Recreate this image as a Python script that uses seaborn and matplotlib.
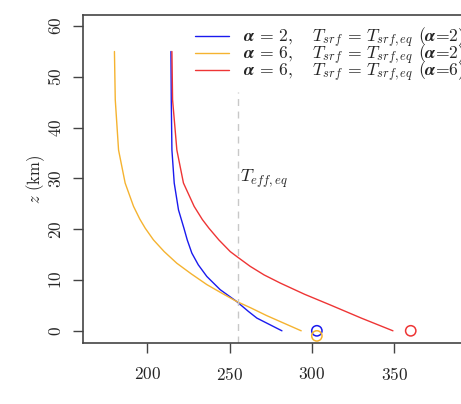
import numpy as np
import pandas as pd
import matplotlib
matplotlib.use("Agg")
import matplotlib.pyplot as plt
import seaborn as sns

# temperature profiles (K) vs altitude (km)
z_a2 = [0, 2.5, 3.8, 5.8, 8.1, 10.7, 13.0, 15.3, 17.9, 20.2, 23.8, 29.1,
        35.6, 45.5, 55]
T_a2 = [281.8, 266.6, 261.5, 254.2, 244.3, 236.2, 231.0, 227.1, 224.3,
        222.3, 219.0, 216.4, 215.0, 214.6, 214.4]

z_a6_eq2 = [0, 1.5, 3.0, 4.5, 5.8, 7.5, 9.1, 11.2, 13.3, 15.6, 17.9, 20.2,
            22.0, 24.5, 29.1, 35.6, 45.5, 55]
T_a6_eq2 = [293.5, 283.0, 272.5, 263.0, 254.2, 244.8, 236.2, 226.8, 218.0,
            210.3, 203.8, 198.8, 195.5, 191.7, 186.6, 182.6, 180.6, 180.1]

z_a6_eq6 = [0, 2.5, 5.1, 7.2, 9.4, 11.0, 12.7, 14.6, 15.6, 17.9, 20.2, 21.9,
            24.5, 29.1, 35.6, 45.5, 55]
T_a6_eq6 = [349.2, 330.0, 311.1, 295.5, 280.8, 271.0, 262.5, 254.5, 250.4,
            243.5, 237.5, 233.5, 228.5, 222.0, 218.0, 215.4, 215.0]

# surface temperatures (circles)
Tsrf_T = [303, 303, 360]
Tsrf_z = [0, -1.0, 0]

T_eff = 255
z_eff_top = 47

labels = [r"$\boldsymbol{\alpha}$ = 2,   $\,T_{srf}$ = $T_{srf,eq}$ ($\boldsymbol{\alpha}$=2)",
          r"$\boldsymbol{\alpha}$ = 6,   $\,T_{srf}$ = $T_{srf,eq}$ ($\boldsymbol{\alpha}$=2)",
          r"$\boldsymbol{\alpha}$ = 6,   $\,T_{srf}$ = $T_{srf,eq}$ ($\boldsymbol{\alpha}$=6)"]
colors = ["#1a1aee", "#f5b330", "#ee3535"]

sns.set_style("ticks")
plt.rcParams["font.family"] = "serif"
plt.rcParams["font.serif"] = ["cmr10", "DejaVu Serif"]
plt.rcParams["mathtext.fontset"] = "cm"
plt.rcParams["axes.formatter.use_mathtext"] = True

fig = plt.figure(figsize=(4.61, 4.04), dpi=100)
ax = fig.add_axes([0.180, 0.151, 1.05, 0.812])

profiles = [(T_a2, z_a2), (T_a6_eq2, z_a6_eq2), (T_a6_eq6, z_a6_eq6)]
for (T, z), lab, c in zip(profiles, labels, colors):
    df = pd.DataFrame({"T": T, "z": z})
    sns.lineplot(data=df, x="T", y="z", sort=False, estimator=None,
                 color=c, lw=1.0, label=lab, ax=ax)

sns.scatterplot(x=Tsrf_T, y=Tsrf_z, marker="o", s=55, facecolor="none",
                edgecolor=colors, linewidth=1.1, ax=ax, legend=False, zorder=5)

ax.set_xlim(161, 161 + 1.05 * 461 / 1.647)
ax.set_ylim(-2.4, 62.2)
ax.vlines(T_eff, -2.4, z_eff_top, colors="#c8c8c8", linestyles=(0, (5, 4)), lw=1.0)
ax.text(T_eff + 1.5, 30, r"$T_{eff,eq}$", fontsize=13, va="center", ha="left")

ax.set_xticks([200, 250, 300, 350])
ax.set_yticks([0, 10, 20, 30, 40, 50, 60])
ax.tick_params(axis="both", direction="out", length=7.5, width=1.0,
               color="#444444", labelsize=12.5)
ax.tick_params(axis="x", pad=9)
ax.tick_params(axis="y", pad=6)
for t in ax.get_yticklabels():
    t.set_rotation(90)
    t.set_va("center")
ax.set_ylabel(r"$z$ (km)", fontsize=12, labelpad=0)
ax.set_xlabel("")
ax.spines["right"].set_visible(False)
for s in ax.spines.values():
    s.set_color("#444444")
    s.set_linewidth(1.2)

ax.legend(loc="upper left", bbox_to_anchor=(195 / 461, 1 - 26 / 404),
          bbox_transform=fig.transFigure, frameon=False, fontsize=12.7,
          handlelength=1.9, handletextpad=0.8, labelspacing=-0.4,
          borderpad=0, borderaxespad=0)

fig.savefig("out.png", dpi=100)
